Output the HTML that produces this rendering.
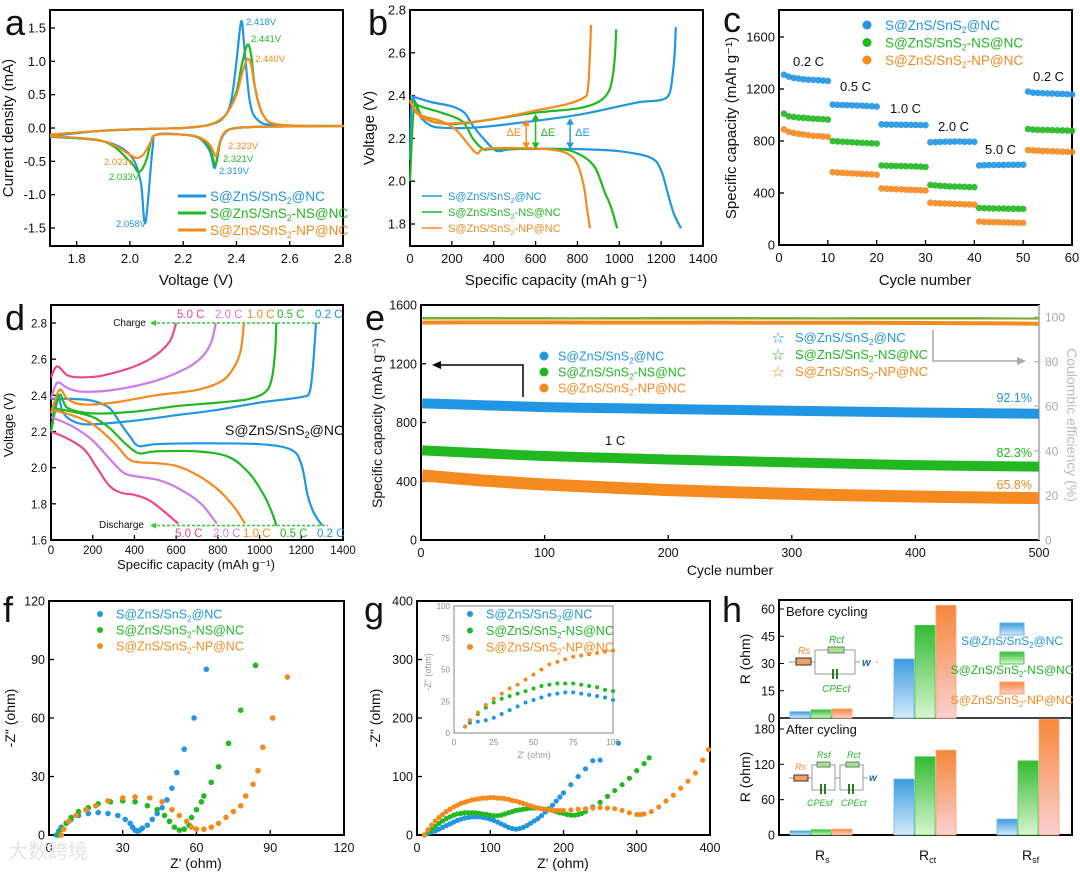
<!DOCTYPE html>
<html><head><meta charset="utf-8">
<style>
html,body{margin:0;padding:0;background:#fff;}
svg{display:block;font-family:"Liberation Sans","Noto Sans CJK SC",sans-serif;}
</style></head>
<body>
<svg id="fig" width="1080" height="874" viewBox="0 0 1080 874" xmlns="http://www.w3.org/2000/svg">
<defs>
<linearGradient id="gB" x1="0" y1="0" x2="0" y2="1"><stop offset="0" stop-color="#3a9be0"/><stop offset="1" stop-color="#d5ebfb"/></linearGradient>
<linearGradient id="gG" x1="0" y1="0" x2="0" y2="1"><stop offset="0" stop-color="#33bb33"/><stop offset="1" stop-color="#d8f5d0"/></linearGradient>
<linearGradient id="gO" x1="0" y1="0" x2="0" y2="1"><stop offset="0" stop-color="#f5873a"/><stop offset="1" stop-color="#fbd0d0"/></linearGradient>
</defs>
</svg>
<script>
// ===== DATA =====
// a: CV
const aBlueX=[1.7,1.9,2.1,2.2,2.3,2.35,2.38,2.4,2.418,2.43,2.45,2.48,2.55,2.8,2.5,2.4,2.36,2.335,2.319,2.3,2.26,2.2,2.1,2.085,2.058,2.04,2.0,1.9,1.7];
const aBlueY=[-0.12,-0.04,-0.01,0,0.05,0.15,0.4,1.0,1.6,1.2,0.4,0.12,0.04,0.03,0.02,0.0,-0.06,-0.25,-0.6,-0.35,-0.15,-0.1,-0.1,-0.3,-1.42,-0.8,-0.4,-0.2,-0.13];
const aGreenX=[1.7,1.9,2.1,2.2,2.3,2.36,2.4,2.42,2.441,2.455,2.47,2.5,2.56,2.8,2.5,2.4,2.36,2.34,2.321,2.3,2.26,2.2,2.1,2.08,2.06,2.033,2.0,1.9,1.7];
const aGreenY=[-0.1,-0.04,-0.01,0,0.05,0.2,0.55,0.95,1.25,1.1,0.6,0.2,0.05,0.03,0.02,0.0,-0.05,-0.2,-0.55,-0.3,-0.15,-0.1,-0.1,-0.2,-0.5,-0.66,-0.5,-0.2,-0.13];
const aOrangeX=[1.7,1.9,2.1,2.2,2.3,2.36,2.4,2.42,2.44,2.455,2.47,2.5,2.56,2.8,2.5,2.4,2.36,2.34,2.323,2.3,2.26,2.2,2.1,2.08,2.05,2.023,2.0,1.9,1.7];
const aOrangeY=[-0.1,-0.04,-0.01,0,0.05,0.2,0.5,0.8,1.03,0.95,0.6,0.2,0.05,0.03,0.02,0.0,-0.05,-0.18,-0.42,-0.25,-0.14,-0.1,-0.1,-0.2,-0.4,-0.45,-0.4,-0.2,-0.12];
// b: GCD
const bBlueDX=[0,100,200,260,300,350,400,430,500,800,1000,1150,1200,1230,1260,1295];
const bBlueDY=[2.40,2.37,2.35,2.32,2.26,2.2,2.15,2.14,2.15,2.15,2.14,2.11,2.05,1.95,1.85,1.78];
const bBlueCX=[0,10,50,100,150,300,500,800,1000,1100,1200,1240,1255,1265,1270];
const bBlueCY=[2.1,2.38,2.3,2.26,2.25,2.25,2.27,2.31,2.35,2.37,2.38,2.41,2.5,2.6,2.72];
const bGreenDX=[0,50,150,250,300,350,400,700,800,880,930,960,990];
const bGreenDY=[2.38,2.35,2.32,2.28,2.2,2.15,2.15,2.15,2.13,2.07,1.95,1.88,1.78];
const bGreenCX=[0,20,60,150,250,400,600,800,900,950,970,980,985];
const bGreenCY=[2.0,2.35,2.3,2.27,2.27,2.29,2.32,2.34,2.37,2.42,2.5,2.6,2.71];
const bOrangeDX=[0,50,150,220,280,320,350,450,650,750,800,830,845,860];
const bOrangeDY=[2.37,2.31,2.28,2.24,2.17,2.13,2.15,2.155,2.15,2.13,2.08,1.98,1.88,1.78];
const bOrangeCX=[0,30,100,200,400,600,750,830,850,860,865];
const bOrangeCY=[2.38,2.32,2.28,2.27,2.29,2.33,2.36,2.39,2.43,2.6,2.73];
// c: rate
const cBlue=[1310,1295,1285,1280,1275,1272,1270,1268,1265,1262,1080,1078,1077,1076,1075,1073,1072,1070,1068,1065,928,927,926,926,925,925,924,924,923,922,790,792,793,795,795,796,796,795,795,794,612,614,615,615,616,616,617,617,617,618,1180,1172,1170,1168,1166,1165,1163,1162,1160,1158];
const cGreen=[1010,990,985,980,978,975,972,970,968,965,800,797,795,793,790,788,786,784,782,780,612,610,609,608,607,606,605,604,603,600,462,458,455,453,451,450,449,448,446,445,285,283,282,281,280,280,279,279,278,278,892,888,886,885,884,883,882,881,880,878];
const cOrange=[890,870,862,855,850,845,840,838,835,832,560,557,555,553,551,549,547,545,543,540,435,433,431,429,428,426,425,423,422,420,325,322,320,319,318,316,315,313,312,310,180,178,177,176,175,174,173,172,171,170,730,728,726,724,723,721,720,718,717,715];
// d: rate GCD
const dRates=["0.2 C","0.5 C","1.0 C","2.0 C","5.0 C"];
const dDX=[[0,100,200,280,330,380,420,500,700,1000,1150,1200,1230,1260,1300],[0,100,200,280,350,420,500,700,850,950,1020,1060,1080],[0,100,200,300,370,420,500,600,700,800,880,930],[0,100,200,280,350,420,520,620,720,795],[0,80,160,220,280,340,400,470,540,610]];
const dDY=[[2.38,2.38,2.37,2.33,2.25,2.17,2.12,2.13,2.135,2.13,2.1,2.02,1.85,1.75,1.68],[2.33,2.31,2.28,2.22,2.14,2.08,2.09,2.09,2.06,1.97,1.85,1.75,1.68],[2.32,2.29,2.24,2.14,2.05,2.03,2.025,2.01,1.96,1.88,1.78,1.69],[2.28,2.23,2.15,2.05,1.97,1.95,1.93,1.88,1.8,1.69],[2.2,2.16,2.1,2.0,1.9,1.86,1.85,1.82,1.76,1.69]];
const dCX=[[0,30,60,120,200,400,600,800,1000,1200,1240,1255,1265,1270],[0,40,80,200,400,600,800,950,1030,1060,1075,1080],[0,40,80,150,300,500,700,820,880,910,925],[0,30,80,150,300,500,650,730,770,790],[0,30,80,150,250,400,500,570,600]];
const dCY=[[2.2,2.4,2.3,2.25,2.24,2.26,2.29,2.32,2.36,2.39,2.42,2.55,2.7,2.8],[2.2,2.4,2.33,2.3,2.31,2.34,2.36,2.38,2.42,2.5,2.65,2.8],[2.3,2.43,2.38,2.35,2.36,2.4,2.43,2.48,2.56,2.65,2.8],[2.38,2.47,2.44,2.42,2.43,2.48,2.55,2.62,2.7,2.8],[2.5,2.56,2.51,2.5,2.51,2.56,2.62,2.7,2.8]];
// e: long cycling
const eCycles=[1,50,100,150,200,250,300,350,400,450,500];
const eBlue=[930,918,905,898,892,886,880,874,868,864,860];
const eGreen=[610,590,572,560,548,538,528,518,510,504,500];
const eOrange=[440,405,378,358,340,326,314,304,296,290,285];
const eCEBlue=[99,99,99,99,99,99,99,99,99,99,99];
const eCEGreen=[99.5,99.5,99.4,99.4,99.5,99.5,99.4,99.4,99.4,99.4,99.3];
const eCEOrange=[97.5,97.6,97.6,97.5,97.5,97.5,97.4,97.4,97.3,97.2,97.0];
// f: EIS before
const fBX=[3,4,5,7,9,12,16,20,24,28,31,33,34,35,36,37,38,40,42,44,46,48,50,52,55,59,64];
const fBY=[0,2,4,6,8,10,11,11.5,11,10,8,6,4,2.5,2,2.5,3.5,5,8,11,14,18,24,32,44,60,85];
const fGX=[4,5,7,9,12,16,20,25,30,35,40,44,47,49,51,53,55,57,58,60,62,63,66,69,73,78,84];
const fGY=[0,3,6,9,12,14,16,17,17.5,17,15,13,10,7,4,2.5,3,5,9,13,17,20,27,35,47,64,87];
const fOX=[5,6,8,11,15,19,24,30,35,41,46,50,53,56,58,60,63,66,69,72,75,78,80,83,85,87,91,97];
const fOY=[0,3,7,10,13,15,17.5,19,19.5,19,17,13,10,7,4,3,3,4,6,9,12,15,20,26,33,45,60,81];
// g: EIS after
const gBX=[10,15,20,25,30,35,40,45,50,55,60,65,70,75,80,85,90,95,100,105,110,115,120,125,130,135,140,145,150,155,160,165,170,175,180,185,190,195,200,210,220,230,240,250,275];
const gBY=[0,3,5,7,10,13,16,19,22,25,27,29,30,31,31,31,30,29,27,25,22,19,16,13,11,10,11,13,16,20,24,28,33,39,45,51,58,65,72,86,100,113,127,128,157];
const gGX=[10,15,20,25,30,35,40,45,50,55,60,65,70,75,80,85,90,95,100,105,110,115,120,125,130,135,140,145,150,155,160,165,170,175,180,185,190,195,200,205,210,215,220,225,230,240,250,260,270,280,290,300,310,317];
const gGY=[0,5,10,15,20,24,28,31,34,36,37,38,38,38,38,37,36,35,34,33,33,34,36,38,40,42,43,44,45,46,46,46,45,44,43,42,40,38,37,35,34,34,35,37,40,48,56,66,76,86,97,110,122,132];
const gOX=[10,15,20,25,30,35,40,45,50,55,60,65,70,75,80,85,90,95,100,105,110,115,120,125,130,135,140,145,150,155,160,165,170,175,180,185,190,195,200,210,220,230,240,250,260,270,280,290,300,305,310,320,330,340,350,360,370,380,390,398];
const gOY=[0,9,17,24,30,35,40,44,48,51,54,56,58,60,61,62,63,63,64,64,63,63,62,61,59,58,56,54,52,50,48,46,45,44,43,42,42,42,42,43,44,45,46,47,46,45,42,38,35,35,36,40,48,58,68,80,92,106,128,146];
const gInX=[7,10,15,20,25,30,35,40,45,50,55,60,65,70,75,80,85,90,95,100];
const gInB=[5,8,9,10,12,15,18,21,24,26,28,30,31,32,32,31,30,29,28,26];
const gInG=[5,9,15,20,24,27,29,31,33,35,37,38,39,39,39,38,37,36,34,33];
const gInO=[5,10,16,22,27,31,35,38,42,46,50,54,56,58,60,61,62,63,64,65];
// h: resistances
const hCats=["Rs","Rct","Rsf"];
const hBefore=[[3.5,32.5,null],[4.5,51,null],[5,62,null]];
const hAfter=[[7,95,27],[9,133,126],[10,144,200]];

// ===== RENDER =====
const NS="http://www.w3.org/2000/svg";
const svg=document.getElementById('fig');
const C={b:"#2196e3",g:"#22b822",o:"#f58a1f",p:"#e84a8c",v:"#cf7ae8"};
function mk(tag,attrs,name,parent){
  const el=document.createElementNS(NS,tag);
  for(const k in attrs) el.setAttribute(k,attrs[k]);
  
  
  (parent||svg).appendChild(el);
  return el;
}
function txt(x,y,s,opt,name){
  const o=Object.assign({x:x,y:y,'font-size':13,fill:'#111'},opt||{});
  const t=mk('text',o,name);
  t.textContent=s;return t;
}
function lab(x,y,pre,sub,post,opt,name){
  const o=Object.assign({x:x,y:y,'font-size':13,fill:'#111'},opt||{});
  const t=mk('text',o,name);
  t.appendChild(document.createTextNode(pre));
  const s=document.createElementNS(NS,'tspan');
  s.setAttribute('font-size',(parseFloat(o['font-size'])*0.65).toFixed(1));
  s.setAttribute('dy','3');s.textContent=sub;t.appendChild(s);
  const p=document.createElementNS(NS,'tspan');p.setAttribute('dy','-3');p.textContent=post;t.appendChild(p);
  return t;
}
function scale(d0,d1,r0,r1){return v=>r0+(v-d0)/(d1-d0)*(r1-r0);}
function smooth(pts){
  if(pts.length<2)return'';
  let d='M'+pts[0][0].toFixed(1)+','+pts[0][1].toFixed(1);
  for(let i=0;i<pts.length-1;i++){
    const p0=pts[i-1]||pts[i],p1=pts[i],p2=pts[i+1],p3=pts[i+2]||p2;
    const c1=[p1[0]+(p2[0]-p0[0])/6,p1[1]+(p2[1]-p0[1])/6];
    const c2=[p2[0]-(p3[0]-p1[0])/6,p2[1]-(p3[1]-p1[1])/6];
    d+='C'+c1[0].toFixed(1)+','+c1[1].toFixed(1)+' '+c2[0].toFixed(1)+','+c2[1].toFixed(1)+' '+p2[0].toFixed(1)+','+p2[1].toFixed(1);
  }
  return d;
}
function line(X,Y,sx,sy,col,w,name){
  const pts=X.map((x,i)=>[sx(x),sy(Y[i])]);
  return mk('path',{d:smooth(pts),fill:'none',stroke:col,'stroke-width':w,'stroke-linejoin':'round'},name);
}
function axes(p){
  mk('rect',{x:p.x0,y:p.y0,width:p.x1-p.x0,height:p.y1-p.y0,fill:'none',stroke:'#000','stroke-width':2},p.n+'-frame');
  p.xt.forEach(v=>{const x=p.sx(v);
    mk('line',{x1:x,x2:x,y1:p.y1,y2:p.y1-5,stroke:'#000','stroke-width':1.3},p.n+'-x-tick');
    txt(x,p.y1+(p.xoff||17),p.xl?p.xl(v):String(v),{'text-anchor':'middle','font-size':p.fs||13},p.n+'-x-tick-label');});
  p.yt.forEach(v=>{const y=p.sy(v);
    mk('line',{x1:p.x0,x2:p.x0+5,y1:y,y2:y,stroke:'#000','stroke-width':1.3},p.n+'-y-tick');
    txt(p.x0-4,y+4.5,p.yl?p.yl(v):String(v),{'text-anchor':'end','font-size':p.fs||13},p.n+'-y-tick-label');});
}
function ytitle(x,y,s,name,fs,fill){return txt(x,y,s,{'text-anchor':'middle','font-size':fs||15,transform:'rotate(-90 '+x+' '+y+')',fill:fill||'#111'},name);}
function letter(x,y,s,name){return txt(x,y,s,{'font-size':36},name);}

// ---------- Panel a ----------
{
const sx=scale(1.7,2.8,50,343), sy=scale(0,1.5,128,28);
axes({n:'a',x0:50,x1:343,y0:10,y1:246,sx,sy,xt:[1.8,2.0,2.2,2.4,2.6,2.8],xl:v=>v.toFixed(1),yt:[-1.5,-1.0,-0.5,0,0.5,1.0,1.5],yl:v=>v.toFixed(1)});
letter(5,35,'a','panel-a-label');
line(aBlueX,aBlueY,sx,sy,C.b,2.2,'cv-blue');
line(aGreenX,aGreenY,sx,sy,C.g,2.2,'cv-green');
line(aOrangeX,aOrangeY,sx,sy,C.o,2.2,'cv-orange');
txt(196,285,'Voltage (V)',{'text-anchor':'middle','font-size':15},'a-x-title');
ytitle(13,128,'Current density (mA)','a-y-title');
const pk=[[246,25,'2.418V',C.b],[251,42,'2.441V',C.g],[255,62,'2.440V',C.o],[228,149,'2.323V',C.o],[223,162,'2.321V',C.g],[219,174,'2.319V',C.b],[104,165,'2.023V',C.o],[109,180,'2.033V',C.g],[116,227,'2.058V',C.b]];
pk.forEach(p=>txt(p[0],p[1],p[2],{'font-size':9.5,fill:p[3]},'peak-label'));
[[C.b,'','@NC'],[C.g,'','-NS@NC'],[C.o,'','-NP@NC']].forEach((l,i)=>{
  const y=196+i*17;
  mk('line',{x1:178,x2:206,y1:y,y2:y,stroke:l[0],'stroke-width':3},'a-legend-line');
  lab(210,y+5,'S@ZnS/SnS','2',l[2],{'font-size':13.5,fill:l[0]},'a-legend-entry');
});
}
// ---------- Panel b ----------
{
const sx=scale(0,1400,410,703), sy=scale(1.8,2.8,224,10);
axes({n:'b',x0:410,x1:703,y0:10,y1:246,sx,sy,xt:[0,200,400,600,800,1000,1200,1400],yt:[1.8,2.0,2.2,2.4,2.6,2.8],yl:v=>v.toFixed(1)});
letter(368,35,'b','panel-b-label');
line(bBlueDX,bBlueDY,sx,sy,C.b,2.2,'gcd-blue-discharge');line(bBlueCX,bBlueCY,sx,sy,C.b,2.2,'gcd-blue-charge');
line(bGreenDX,bGreenDY,sx,sy,C.g,2.2,'gcd-green-discharge');line(bGreenCX,bGreenCY,sx,sy,C.g,2.2,'gcd-green-charge');
line(bOrangeDX,bOrangeDY,sx,sy,C.o,2.2,'gcd-orange-discharge');line(bOrangeCX,bOrangeCY,sx,sy,C.o,2.2,'gcd-orange-charge');
[[555,2.285,C.o,-1],[600,2.31,C.g,1],[765,2.29,C.b,1]].forEach(a=>{
  const x=sx(a[0]),y1=sy(2.155),y2=sy(a[1]);
  mk('line',{x1:x,x2:x,y1:y1-4,y2:y2+4,stroke:a[2],'stroke-width':1.5},'delta-e-arrow');
  mk('path',{d:`M${x-3},${y2+5}L${x},${y2}L${x+3},${y2+5}ZM${x-3},${y1-5}L${x},${y1}L${x+3},${y1-5}Z`,fill:a[2],stroke:a[2]},'delta-e-arrowhead');
  txt(x+a[3]*5,y1-12,'ΔE',{'font-size':11,fill:a[2],'text-anchor':a[3]<0?'end':'start'},'delta-e-label');
});
[[C.b,'@NC'],[C.g,'-NS@NC'],[C.o,'-NP@NC']].forEach((l,i)=>{
  const y=196+i*16;
  mk('line',{x1:422,x2:442,y1:y,y2:y,stroke:l[0],'stroke-width':1.5},'b-legend-line');
  lab(448,y+4,'S@ZnS/SnS','2',l[1],{'font-size':11,fill:l[0]},'b-legend-entry');
});
txt(556,285,'Specific capacity  (mAh g⁻¹)',{'text-anchor':'middle','font-size':15},'b-x-title');
ytitle(374,128,'Voltage (V)','b-y-title');
}
// ---------- Panel c ----------
{
const sx=scale(0,60,779,1072), sy=scale(0,1600,245,37);
axes({n:'c',x0:779,x1:1072,y0:10,y1:245,sx,sy,xt:[0,10,20,30,40,50,60],yt:[0,400,800,1200,1600]});
letter(723,32,'c','panel-c-label');
[[cBlue,C.b],[cGreen,C.g],[cOrange,C.o]].forEach(s=>{
  s[0].forEach((v,i)=>mk('circle',{cx:sx(i+1),cy:sy(v),r:3.3,fill:s[1],'fill-opacity':0.9},'c-point'));
});
[[C.b,'@NC'],[C.g,'-NS@NC'],[C.o,'-NP@NC']].forEach((l,i)=>{
  const y=25+i*17.5;
  mk('circle',{cx:867,cy:y,r:4.5,fill:l[0]},'c-legend-marker');
  lab(885,y+5,'S@ZnS/SnS','2',l[1],{'font-size':13.5,fill:l[0]},'c-legend-entry');
});
[[793,66,'0.2 C'],[840,91,'0.5 C'],[890,113,'1.0 C'],[938,131,'2.0 C'],[985,154,'5.0 C'],[1033,81,'0.2 C']].forEach(r=>txt(r[0],r[1],r[2],{'font-size':13},'c-rate-label'));
txt(925,285,'Cycle number',{'text-anchor':'middle','font-size':15},'c-x-title');
ytitle(736,128,'Specific capacity (mAh g⁻¹)','c-y-title');
}
// ---------- Panel d ----------
{
const sx=scale(0,1400,51,343), sy=scale(1.6,2.8,540,323);
axes({n:'d',x0:51,x1:343,y0:305,y1:540,sx,sy,xt:[0,200,400,600,800,1000,1200,1400],yt:[1.6,1.8,2.0,2.2,2.4,2.6,2.8],yl:v=>v.toFixed(1),fs:11.5,xoff:14});
letter(5,330,'d','panel-d-label');
const cols=[C.b,C.g,C.o,C.v,C.p];
const topX=[315,277,247,215,177], botX=[317,280,243,213,175];
dRates.forEach((r,i)=>{
  line(dDX[i],dDY[i],sx,sy,cols[i],2.2,'d-discharge-curve');
  line(dCX[i],dCY[i],sx,sy,cols[i],2.2,'d-charge-curve');
  txt(topX[i],318,r,{'font-size':11.5,fill:cols[i]},'d-rate-label-top');
  txt(botX[i],537,r,{'font-size':11.5,fill:cols[i]},'d-rate-label-bottom');
});
mk('line',{x1:152,x2:322,y1:sy(2.8),y2:sy(2.8),stroke:'#3c3','stroke-width':1.5,'stroke-dasharray':'3,2'},'charge-dash');
mk('line',{x1:152,x2:328,y1:sy(1.68),y2:sy(1.68),stroke:'#3c3','stroke-width':1.5,'stroke-dasharray':'3,2'},'discharge-dash');
mk('path',{d:`M150,${sy(2.8)}l6,-3v6z`,fill:'#3c3'},'charge-arrowhead');
mk('path',{d:`M150,${sy(1.68)}l6,-3v6z`,fill:'#3c3'},'discharge-arrowhead');
txt(146,326,'Charge',{'font-size':10,'text-anchor':'end'},'charge-label');
txt(144,528,'Discharge',{'font-size':10,'text-anchor':'end'},'discharge-label');
lab(225,435,'S@ZnS/SnS','2','@NC',{'font-size':14},'d-annotation');
txt(196,569,'Specific capacity  (mAh g⁻¹)',{'text-anchor':'middle','font-size':13},'d-x-title');
ytitle(13,425,'Voltage (V)','d-y-title',13);
}
// ---------- Panel e ----------
{
const sx=scale(0,500,421,1039), sy=scale(0,1600,540,305), sr=scale(0,100,540,317);
mk('line',{x1:1039,x2:1039,y1:305,y2:540,stroke:'#bbb','stroke-width':2},'e-right-axis');
[0,20,40,60,80,100].forEach(v=>{txt(1045,sr(v)+4.5,String(v),{'font-size':12,fill:'#aaa'},'e-right-tick-label');
  mk('line',{x1:1039,x2:1034,y1:sr(v),y2:sr(v),stroke:'#bbb','stroke-width':1.3},'e-right-tick');});
axes({n:'e',x0:421,x1:1039,y0:305,y1:540,sx,sy,xt:[0,100,200,300,400,500],yt:[0,400,800,1200,1600],fs:12.5});
mk('line',{x1:1039,x2:1039,y1:305,y2:540,stroke:'#bbb','stroke-width':2.2},'e-right-axis-overlay');
letter(365,330,'e','panel-e-label');
line(eCycles,eCEOrange,sx,sr,C.o,4,'ce-orange');
line(eCycles,eCEGreen,sx,sr,C.g,2,'ce-green');
line(eCycles,eCEBlue,sx,sr,'#f0a060',1.2,'ce-blue');
line(eCycles,eBlue,sx,sy,C.b,10,'e-blue-band');
line(eCycles,eGreen,sx,sy,C.g,10,'e-green-band');
line(eCycles,eOrange,sx,sy,C.o,12,'e-orange-band');
[[C.b,'@NC'],[C.g,'-NS@NC'],[C.o,'-NP@NC']].forEach((l,i)=>{
  const y=356+i*16;
  mk('circle',{cx:544,cy:y,r:4.5,fill:l[0]},'e-legend-marker');
  lab(558,y+4.5,'S@ZnS/SnS','2',l[1],{'font-size':12.5,fill:l[0]},'e-legend-entry');
  const y2=337+i*17;
  txt(778,y2+5,'☆',{'font-size':12,fill:l[0],'text-anchor':'middle'},'e-ce-legend-marker');
  lab(795,y2+5,'S@ZnS/SnS','2',l[1],{'font-size':13,fill:l[0]},'e-ce-legend-entry');
});
mk('path',{d:'M523,397V365H440',fill:'none',stroke:'#000','stroke-width':1.5},'e-left-arrow');
mk('path',{d:'M432,365l9,-4v8z',fill:'#000'},'e-left-arrowhead');
mk('path',{d:'M933,330V361H1018',fill:'none',stroke:'#aaa','stroke-width':1.5},'e-right-arrow');
mk('path',{d:'M1026,361l-9,-4v8z',fill:'#aaa'},'e-right-arrowhead');
txt(1032,402,'92.1%',{'font-size':12.5,fill:C.b,'text-anchor':'end'},'retention-blue');
txt(1032,457,'82.3%',{'font-size':12.5,fill:C.g,'text-anchor':'end'},'retention-green');
txt(1032,489,'65.8%',{'font-size':12.5,fill:C.o,'text-anchor':'end'},'retention-orange');
txt(605,445,'1 C',{'font-size':13},'e-rate-label');
txt(730,575,'Cycle number',{'text-anchor':'middle','font-size':14},'e-x-title');
ytitle(382,423,'Specific capacity (mAh g⁻¹)','e-y-title',14);
txt(1067,425,'Coulombic efficiency (%)',{'text-anchor':'middle','font-size':14,fill:'#bbb',transform:'rotate(90 1067 425)'},'e-right-title');
}
// ---------- Panel f ----------
{
const sx=scale(0,120,49,344), sy=scale(0,120,835,601);
axes({n:'f',x0:49,x1:344,y0:601,y1:835,sx,sy,xt:[0,30,60,90,120],yt:[0,30,60,90,120],fs:12.5});
letter(3,622,'f','panel-f-label');
[[fBX,fBY,C.b],[fGX,fGY,C.g],[fOX,fOY,C.o]].forEach(s=>s[0].forEach((x,i)=>mk('circle',{cx:sx(x),cy:sy(s[1][i]),r:2.8,fill:s[2]},'f-point')));
[[C.b,'@NC'],[C.g,'-NS@NC'],[C.o,'-NP@NC']].forEach((l,i)=>{
  const y=614+i*16;
  mk('circle',{cx:100,cy:y,r:3,fill:l[0]},'f-legend-marker');
  lab(116,y+4.5,'S@ZnS/SnS','2',l[1],{'font-size':12.5,fill:l[0]},'f-legend-entry');
});
txt(196,868,"Z' (ohm)",{'text-anchor':'middle','font-size':14},'f-x-title');
ytitle(15,718,'-Z" (ohm)','f-y-title',14);
txt(8,858,'大数跨境',{'font-size':20,fill:'#e4e4e4'},'watermark');
}
// ---------- Panel g ----------
{
const sx=scale(0,400,417,710), sy=scale(0,400,835,601);
axes({n:'g',x0:417,x1:710,y0:601,y1:835,sx,sy,xt:[0,100,200,300,400],yt:[0,100,200,300,400],fs:12.5});
letter(364,622,'g','panel-g-label');
[[gBX,gBY,C.b],[gGX,gGY,C.g],[gOX,gOY,C.o]].forEach(s=>s[0].forEach((x,i)=>mk('circle',{cx:sx(x),cy:sy(s[1][i]),r:2.6,fill:s[2]},'g-point')));
const ix=scale(0,100,454,613), iy=scale(0,100,733,606);
mk('rect',{x:454,y:606,width:159,height:127,fill:'#fff',stroke:'#999','stroke-width':1.2},'inset-frame');
[0,25,50,75,100].forEach(v=>{
  txt(ix(v),745,String(v),{'font-size':8,fill:'#888','text-anchor':'middle'},'inset-x-tick-label');
  txt(450,iy(v)+3,String(v),{'font-size':8,fill:'#888','text-anchor':'end'},'inset-y-tick-label');
});
[[gInB,C.b],[gInG,C.g],[gInO,C.o]].forEach(s=>gInX.forEach((x,i)=>mk('circle',{cx:ix(x),cy:iy(s[0][i]),r:2,fill:s[1]},'inset-point')));
txt(534,758,"Z' (ohm)",{'font-size':9,fill:'#999','text-anchor':'middle'},'inset-x-title');
ytitle(431,672,'-Z" (ohm)','inset-y-title',9,'#999');
[[C.b,'@NC'],[C.g,'-NS@NC'],[C.o,'-NP@NC']].forEach((l,i)=>{
  const y=614+i*16.5;
  mk('circle',{cx:470,cy:y,r:3,fill:l[0]},'g-legend-marker');
  lab(486,y+4.5,'S@ZnS/SnS','2',l[1],{'font-size':12.5,fill:l[0]},'g-legend-entry');
});
txt(563,868,"Z' (ohm)",{'text-anchor':'middle','font-size':14},'g-x-title');
ytitle(380,718,'-Z" (ohm)','g-y-title',14);
}
// ---------- Panel h ----------
{
const cx=[821,925,1028], bw=20, off=[-21,0,21], grads=['url(#gB)','url(#gG)','url(#gO)'], strokes=['#6ab4ea','#55c855','#f5a870'];
const syT=scale(0,60,718,609), syB=scale(0,180,835,729);
mk('rect',{x:779,y:600,width:293,height:235,fill:'none',stroke:'#000','stroke-width':2},'h-frame');
mk('line',{x1:779,x2:1072,y1:718,y2:718,stroke:'#000','stroke-width':1.6},'h-divider');
letter(722,622,'h','panel-h-label');
[0,15,30,45,60].forEach(v=>{txt(775,syT(v)+4.5,String(v),{'font-size':12.5,'text-anchor':'end'},'h-top-y-tick-label');mk('line',{x1:779,x2:784,y1:syT(v),y2:syT(v),stroke:'#000'},'h-tick');});
[0,60,120,180].forEach(v=>{txt(775,syB(v)+4.5,String(v),{'font-size':12.5,'text-anchor':'end'},'h-bottom-y-tick-label');mk('line',{x1:779,x2:784,y1:syB(v),y2:syB(v),stroke:'#000'},'h-tick');});
const drawBars=(data,sy,top,base,name)=>{
  data.forEach((ser,s)=>ser.forEach((v,c)=>{
    if(v===null)return;
    const y=Math.max(sy(v),top);
    mk('rect',{x:cx[c]+off[s]-bw/2,y:y,width:bw,height:base-y,fill:grads[s],stroke:strokes[s],'stroke-width':0.8},name);
  }));
};
drawBars(hBefore,syT,601,718,'h-bar-before');
drawBars(hAfter,syB,719,835,'h-bar-after');
hCats.forEach((c,i)=>{
  const t=mk('text',{x:cx[i]-6,y:860,'font-size':14,fill:'#111'},'h-x-label');
  t.textContent='R';const s=document.createElementNS(NS,'tspan');s.setAttribute('font-size','9');s.setAttribute('dy','3');s.textContent=c.slice(1);t.appendChild(s);
});
txt(786,616,'Before cycling',{'font-size':13},'before-label');
txt(786,734,'After cycling',{'font-size':13},'after-label');
ytitle(750,659,'R (ohm)','h-top-y-title',14);
ytitle(750,777,'R (ohm)','h-bottom-y-title',14);
[[C.b,'@NC',623],[C.g,'-NS@NC',652],[C.o,'-NP@NC',682]].forEach((l,i)=>{
  mk('rect',{x:1000,y:l[2],width:24,height:12,fill:grads[i],stroke:strokes[i]},'h-legend-swatch');
  lab(1012,l[2]+22,'S@ZnS/SnS','2',l[1],{'font-size':12,fill:l[0],'text-anchor':'middle'},'h-legend-entry');
});
const g1=mk('g',{stroke:'#999','stroke-width':1,fill:'none'},'circuit-before');
mk('path',{d:'M789,662H796M811,662H815V650H855V674H815V662M855,662H860M876,662H878'},'circuit-wire',g1);
mk('rect',{x:796,y:658,width:15,height:7,fill:'#f5a060',stroke:'#333'},'rs-resistor');
mk('rect',{x:828,y:647,width:16,height:6,fill:'#9ee88a',stroke:'#777'},'rct-resistor');
mk('path',{d:'M833,669v10M837,669v10',stroke:'#2a7a2a','stroke-width':2},'cpe-element');
txt(798,654,'Rs',{'font-size':10,fill:C.o,'font-style':'italic'},'rs-label');
txt(829,643,'Rct',{'font-size':10,fill:C.g,'font-style':'italic'},'rct-label');
txt(822,692,'CPEct',{'font-size':10,fill:C.g,'font-style':'italic'},'cpe-label');
txt(862,666,'w',{'font-size':11,fill:'#1a6a9a','font-weight':'bold','font-style':'italic'},'w-label');
const g2=mk('g',{stroke:'#999','stroke-width':1,fill:'none'},'circuit-after');
mk('path',{d:'M789,778H794M808,778H812V765H835V790H812V778M835,778H840V765H863V790H840V778M863,778H868'},'circuit-wire',g2);
mk('rect',{x:794,y:775,width:14,height:6,fill:'#f5a060',stroke:'#333'},'rs-resistor');
mk('rect',{x:817,y:762,width:13,height:5,fill:'#9ee88a',stroke:'#777'},'rsf-resistor');
mk('rect',{x:846,y:762,width:13,height:5,fill:'#9ee88a',stroke:'#777'},'rct-resistor');
mk('path',{d:'M821,784v10M825,784v10M849,784v10M853,784v10',stroke:'#2a7a2a','stroke-width':2},'cpe-element');
txt(795,770,'Rs',{'font-size':9,fill:C.o,'font-style':'italic'},'rs-label');
txt(817,758,'Rsf',{'font-size':9,fill:C.g,'font-style':'italic'},'rsf-label');
txt(847,758,'Rct',{'font-size':9,fill:C.g,'font-style':'italic'},'rct-label');
txt(807,806,'CPEsf',{'font-size':9,fill:C.g,'font-style':'italic'},'cpe-sf-label');
txt(841,806,'CPEct',{'font-size':9,fill:C.g,'font-style':'italic'},'cpe-ct-label');
txt(869,781,'w',{'font-size':10,fill:'#1a6a9a','font-weight':'bold','font-style':'italic'},'w-label');
}
</script>
</body></html>
